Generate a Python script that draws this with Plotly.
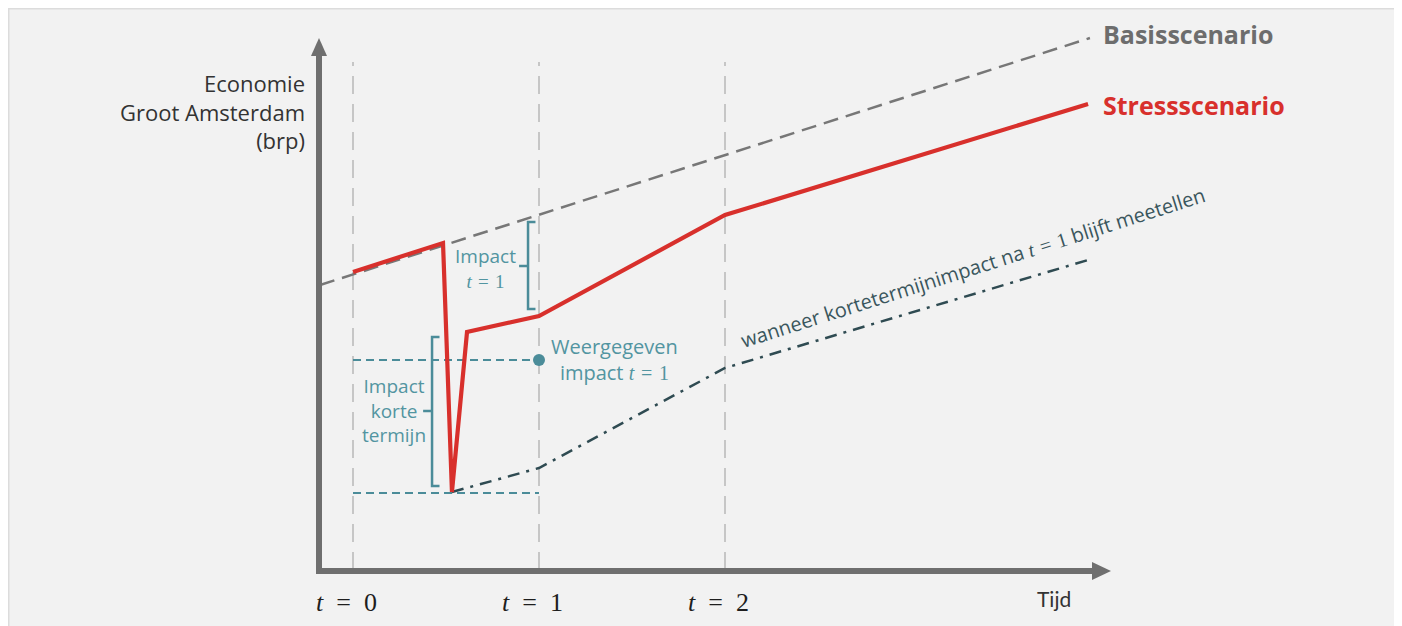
import plotly.graph_objects as go

# ---------------- data (x in t-units, y in index units) ----------------
t_ticks = [0, 1, 2]
t_labels = ["t = 0", "t = 1", "t = 2"]

basis_x = [-0.177, 3.962]
basis_y = [2.86, 5.33]

stress_x = [0.0, 0.484, 0.532, 0.613, 1.0, 2.0, 3.952]
stress_y = [2.99, 3.28, 0.79, 2.39, 2.55, 3.56, 4.67]

dashdot_x = [0.532, 1.0, 2.0, 3.952]
dashdot_y = [0.79, 1.03, 2.03, 3.11]

shown_impact_y = 2.11      # "Weergegeven impact t = 1"
trough_y = 0.78            # bottom of short-term shock
ref_x = [0.0, 1.0]

bracket1 = dict(x=0.941, top=3.49, bottom=2.62, mid=3.05)   # Impact t = 1
bracket2 = dict(x=0.425, top=2.34, bottom=0.85, mid=1.60)   # Impact korte termijn

# ---------------- geometry helpers ----------------
OFF = 8                   # page body margin
W, H = 1402 - OFF, 626 - OFF
PX_X = 186.0   # pixels per t unit
PX_Y = 100.0   # pixels per y unit
X0_PX = 353.0 - OFF       # figure px of t = 0
Y0_PX = 571.0 - OFF       # figure px of y = 0
xr = [(0 - X0_PX) / PX_X, (W - X0_PX) / PX_X]
yr = [(Y0_PX - H) / PX_Y, (Y0_PX - 0) / PX_Y]


def X(px):   # page pixel -> data x
    return (px - OFF - X0_PX) / PX_X


def Y(py):   # page pixel -> data y
    return (Y0_PX - (py - OFF)) / PX_Y


TEAL = "#4b8c99"
TEAL_T = "#5295a1"
DARK = "#2f4b52"
RED = "#d8302c"
GREY = "#777777"
AXIS = "#6f6f6f"
TEXTF = "Open Sans"
MATHF = "Liberation Serif"
SP = "\u2004"
SP_TICK = "\u2002"

fig = go.Figure()

# vertical reference dashed lines at t = 0,1,2
for t in t_ticks:
    fig.add_trace(go.Scatter(x=[t, t], y=[Y(570), Y(62)], mode="lines",
                             line=dict(color="#c6c6c6", width=2, dash="18px,10px"),
                             hoverinfo="skip", showlegend=False))

# teal dashed horizontal reference lines
fig.add_trace(go.Scatter(x=ref_x, y=[shown_impact_y] * 2, mode="lines",
                         line=dict(color=TEAL, width=2.2, dash="8px,5px"),
                         hoverinfo="skip", showlegend=False))
fig.add_trace(go.Scatter(x=ref_x, y=[trough_y] * 2, mode="lines",
                         line=dict(color=TEAL, width=2.2, dash="8px,5px"),
                         hoverinfo="skip", showlegend=False))
fig.add_trace(go.Scatter(x=[ref_x[1]], y=[shown_impact_y], mode="markers",
                         marker=dict(color=TEAL, size=12),
                         hoverinfo="skip", showlegend=False))

# brackets
for b, tick in ((bracket1, 0.04), (bracket2, 0.04)):
    bx = [b["x"] + tick, b["x"], b["x"], b["x"] - tick * 1.2, b["x"], b["x"], b["x"] + tick]
    by = [b["top"], b["top"], b["mid"], b["mid"], b["mid"], b["bottom"], b["bottom"]]
    fig.add_trace(go.Scatter(x=bx, y=by, mode="lines",
                             line=dict(color=TEAL, width=2.5),
                             hoverinfo="skip", showlegend=False))

# basis scenario
fig.add_trace(go.Scatter(x=basis_x, y=basis_y, mode="lines",
                         line=dict(color=GREY, width=2.5, dash="15px,8px"),
                         hoverinfo="skip", showlegend=False))
# dash-dot line
fig.add_trace(go.Scatter(x=dashdot_x, y=dashdot_y, mode="lines",
                         line=dict(color=DARK, width=2.5, dash="12px,7px,3px,7px"),
                         hoverinfo="skip", showlegend=False))
# stress scenario
fig.add_trace(go.Scatter(x=stress_x, y=stress_y, mode="lines",
                         line=dict(color=RED, width=4.2),
                         hoverinfo="skip", showlegend=False))

# axes (drawn as lines with arrowheads)
yax_x = X(319)
fig.add_trace(go.Scatter(x=[yax_x, yax_x], y=[Y(574), Y(52)], mode="lines",
                         line=dict(color=AXIS, width=6),
                         hoverinfo="skip", showlegend=False))
fig.add_trace(go.Scatter(x=[X(316), X(1094)], y=[0, 0], mode="lines",
                         line=dict(color=AXIS, width=6),
                         hoverinfo="skip", showlegend=False))

shapes = [
    dict(type="rect", xref="paper", yref="paper", x0=0, x1=1389 / W,
         y0=-0.05, y1=1.0, fillcolor="#f2f2f2",
         line=dict(color="#dcdcdc", width=3), layer="below"),
    # y-axis arrow head
    dict(type="path", xref="x", yref="y",
         path=f"M {X(311)} {Y(56)} L {X(319)} {Y(38)} L {X(327)} {Y(56)} Z",
         fillcolor=AXIS, line=dict(width=0)),
    # x-axis arrow head
    dict(type="path", xref="x", yref="y",
         path=f"M {X(1092)} {Y(562)} L {X(1111)} {Y(571)} L {X(1092)} {Y(580)} Z",
         fillcolor=AXIS, line=dict(width=0)),
]

ann = []


def txt(px, py, text, size, color, family=TEXTF, xanchor="center", align="center", **kw):
    ann.append(dict(x=X(px), y=Y(py), xref="x", yref="y", showarrow=False,
                    xanchor=xanchor, yanchor="middle", align=align, text=text,
                    font=dict(family=family, size=size, color=color), **kw))


# tick labels
for t, lab in zip(t_ticks, t_labels):
    a, b = lab.split(" = ")
    ann.append(dict(x=t - 0.033, y=Y(602), xref="x", yref="y", showarrow=False,
                    text=f"<i>{a}</i>{SP_TICK}={SP_TICK}{b}",
                    font=dict(family=MATHF, size=26, color="#1e1e1e")))
txt(1054, 598, "Tijd", 21, "#333333", family="Lato")

# y-axis title
txt(307, 111, "Economie<br>Groot Amsterdam<br>(brp)", 22, "#333333",
    xanchor="right", align="right")

# series labels
txt(1101, 34, "<b>Basisscenario</b>", 25, "#6d6d6d", xanchor="left")
txt(1101, 105, "<b>Stressscenario</b>", 25, RED, xanchor="left")

ital = f"<span style='font-family:{MATHF}'><i>t</i>{SP}={SP}1</span>"
txt(485, 267, f"Impact<br>{ital}", 19, TEAL_T)
txt(394, 410, "Impact<br>korte<br>termijn", 19, TEAL_T)
txt(614, 359, f"Weergegeven<br>impact {ital}", 20, TEAL_T)
txt(973, 267, "wanneer kortetermijnimpact na "
    f"<span style='font-family:{MATHF}'><i>t</i>{SP}={SP}1</span> blijft meetellen",
    20, "#3a565d", textangle=-17.6)

fig.update_layout(
    width=W, height=H, margin=dict(l=0, r=0, t=0, b=0),
    paper_bgcolor="white", plot_bgcolor="rgba(0,0,0,0)",
    xaxis=dict(range=xr, visible=False, fixedrange=True),
    yaxis=dict(range=yr, visible=False, fixedrange=True),
    shapes=shapes, annotations=ann, showlegend=False,
)

fig.write_html("out.html")
